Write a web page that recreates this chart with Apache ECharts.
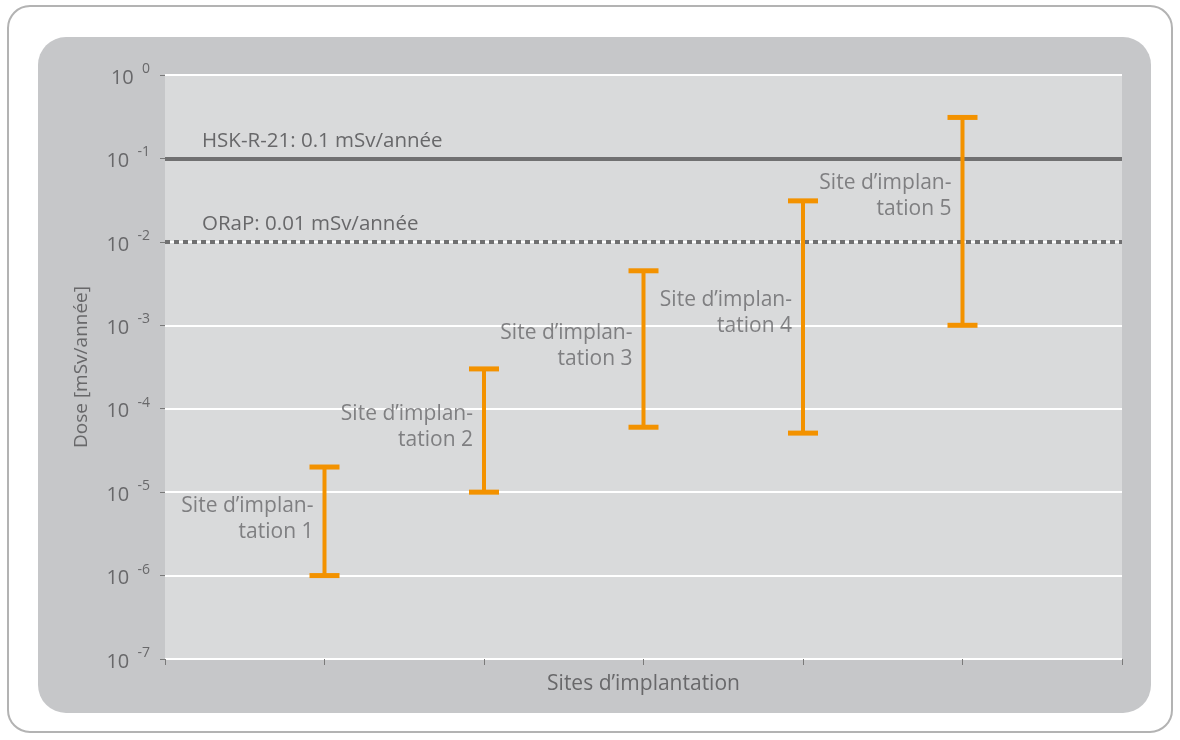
<!DOCTYPE html>
<html><head><meta charset="utf-8">
<script src="https://cdn.jsdelivr.net/npm/echarts@6/dist/echarts.min.js"></script>
<style>html,body{margin:0;padding:0;background:#fff}#c{width:1180px;height:740px}</style>
</head><body><div id="c"></div>
<script>
const sites = [1, 2, 3, 4, 5];
const siteLabels = ['Site d\u2019implan-\ntation 1','Site d\u2019implan-\ntation 2','Site d\u2019implan-\ntation 3','Site d\u2019implan-\ntation 4','Site d\u2019implan-\ntation 5'];
const doseLow  = [1e-6, 1e-5, 6e-5, 5.1e-5, 1e-3];
const doseHigh = [2e-5, 3e-4, 4.5e-3, 3.1e-2, 0.31];
const labelAnchor = [4.8e-6, 6e-5, 5.7e-4, 1.4e-3, 3.5e-2];
const limitValues = [0.1, 0.01];
const limitNames = ['HSK-R-21: 0.1 mSv/ann\u00e9e', 'ORaP: 0.01 mSv/ann\u00e9e'];
const xTicks = [0, 1, 2, 3, 4, 5, 6];
const yName = 'Dose [mSv/ann\u00e9e]';
const xName = 'Sites d\u2019implantation';

const FONT = '"Open Sans", "Noto Sans", sans-serif';
const TXT = '#68686a';
const ORANGE = '#F39200';

const errData = sites.map((s, i) => [s, doseLow[i], doseHigh[i]]);
const labData = sites.map((s, i) => ({value: [s, labelAnchor[i]], name: siteLabels[i]}));

const chart = echarts.init(document.getElementById('c'), null, {renderer: 'canvas'});
chart.setOption({
  animation: false,
  backgroundColor: '#ffffff',
  graphic: [
    {type: 'rect', z: -100, silent: true, shape: {x: 8, y: 6, width: 1164, height: 726, r: 22}, style: {fill: '#ffffff', stroke: '#b3b3b3', lineWidth: 2}},
    {type: 'rect', z: -99, silent: true, shape: {x: 38, y: 37, width: 1113, height: 676, r: 28}, style: {fill: '#c6c7c9'}}
  ],
  grid: {left: 165, right: 58, top: 75, bottom: 81, show: true, backgroundColor: '#d9dadb', borderWidth: 0, z: 0},
  xAxis: {
    type: 'value', min: xTicks[0], max: xTicks[xTicks.length - 1], interval: 1,
    name: xName, nameLocation: 'middle', nameGap: 15,
    nameTextStyle: {color: TXT, fontSize: 21, fontFamily: FONT, verticalAlign: 'top'},
    axisLine: {show: false},
    axisTick: {show: true, length: 6, lineStyle: {color: '#7a7a7a', width: 1}},
    axisLabel: {show: false},
    splitLine: {show: false}
  },
  yAxis: {
    type: 'log', logBase: 10, min: 1e-7, max: 1, interval: 1,
    name: yName, nameLocation: 'middle', nameGap: 74, nameRotate: 90,
    nameTextStyle: {color: TXT, fontSize: 19, fontFamily: FONT},
    axisLine: {show: false},
    axisTick: {show: true, length: 5, lineStyle: {color: '#7a7a7a', width: 1}},
    minorTick: {show: false},
    splitLine: {show: true, lineStyle: {color: '#ffffff', width: 2}},
    axisLabel: {
      margin: 15,
      formatter: v => '{b|10 }{s|' + Math.round(Math.log10(v)) + '}',
      rich: {
        b: {fontSize: 20, fontFamily: FONT, color: TXT, lineHeight: 26, verticalAlign: 'bottom', padding: [0, 3, 0, 0]},
        s: {fontSize: 14, fontFamily: FONT, color: TXT, lineHeight: 16, verticalAlign: 'top'}
      }
    }
  },
  series: [
    {
      type: 'line', data: [], silent: true,
      markLine: {
        silent: true, symbol: 'none', animation: false,
        data: limitValues.map((v, i) => ({
          yAxis: v, name: limitNames[i],
          lineStyle: {color: '#707071', width: 4, type: i === 0 ? 'solid' : [5, 4]},
          label: {formatter: limitNames[i]}
        })),
        label: {show: true, position: 'insideStartTop', distance: [37, 7], color: TXT, fontSize: 20.5, fontFamily: FONT}
      }
    },
    {
      type: 'custom', data: errData, silent: true, z: 5,
      renderItem: function (params, api) {
        const x = api.value(0);
        const p1 = api.coord([x, api.value(1)]);
        const p2 = api.coord([x, api.value(2)]);
        const cw = 15;
        const st = {stroke: ORANGE, lineWidth: 4};
        const cs = {stroke: ORANGE, lineWidth: 5};
        return {type: 'group', children: [
          {type: 'line', shape: {x1: p1[0], y1: p1[1], x2: p2[0], y2: p2[1]}, style: st},
          {type: 'line', shape: {x1: p1[0] - cw, y1: p1[1], x2: p1[0] + cw, y2: p1[1]}, style: cs},
          {type: 'line', shape: {x1: p2[0] - cw, y1: p2[1], x2: p2[0] + cw, y2: p2[1]}, style: cs}
        ]};
      }
    },
    {
      type: 'scatter', data: labData, symbolSize: 0, silent: true, z: 6,
      label: {show: true, position: 'left', distance: 11, align: 'right', formatter: p => p.name,
        color: TXT, fontSize: 21, fontFamily: FONT, lineHeight: 26}
    }
  ]
});
</script></body></html>
